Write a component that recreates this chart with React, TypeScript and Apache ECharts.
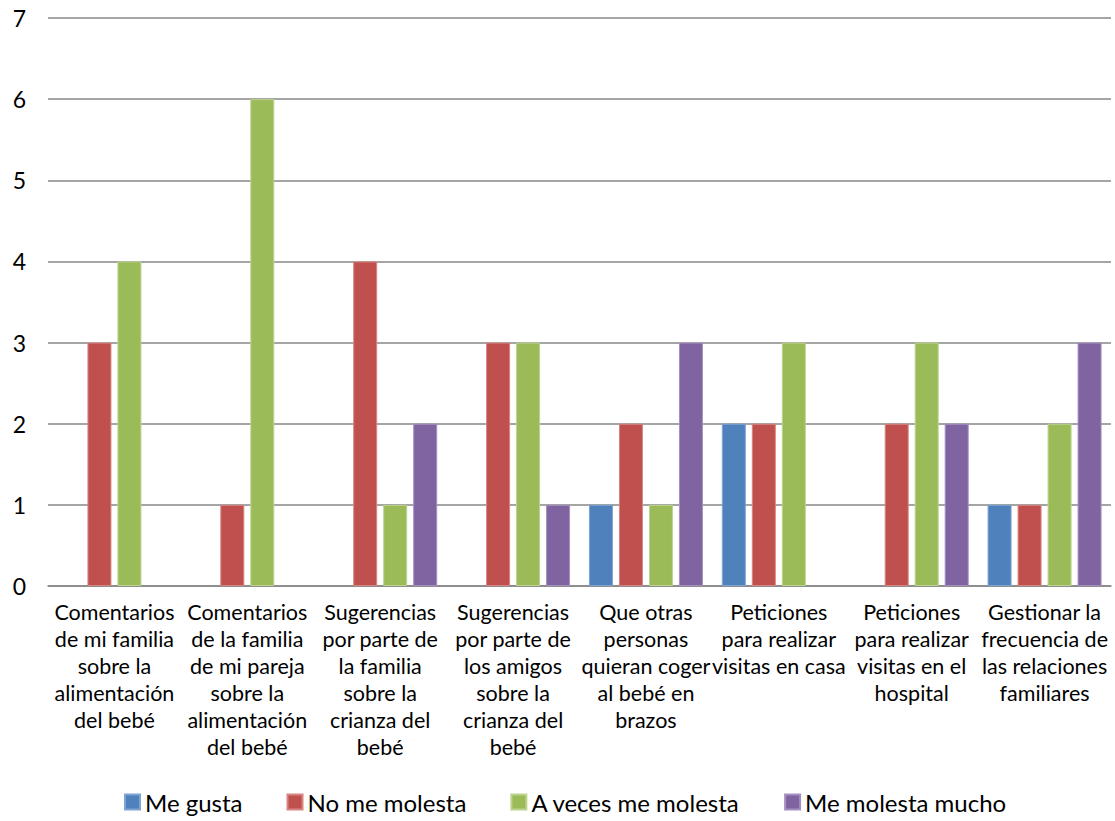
import React, { useEffect, useRef } from "react";
import * as echarts from "echarts";

const categories = [
  "Comentarios\nde mi familia\nsobre la\nalimentación\ndel bebé",
  "Comentarios\nde la familia\nde mi pareja\nsobre la\nalimentación\ndel bebé",
  "Sugerencias\npor parte de\nla familia\nsobre la\ncrianza del\nbebé",
  "Sugerencias\npor parte de\nlos amigos\nsobre la\ncrianza del\nbebé",
  "Que otras\npersonas\nquieran coger\nal bebé en\nbrazos",
  "Peticiones\npara realizar\nvisitas en casa",
  "Peticiones\npara realizar\nvisitas en el\nhospital",
  "Gestionar la\nfrecuencia de\nlas relaciones\nfamiliares",
];

const meGusta = [0, 0, 0, 0, 1, 2, 0, 1];
const noMeMolesta = [3, 1, 4, 3, 2, 2, 2, 1];
const aVecesMeMolesta = [4, 6, 1, 3, 1, 3, 3, 2];
const meMolestaMucho = [0, 0, 2, 1, 3, 0, 2, 3];

const yTicks = [0, 1, 2, 3, 4, 5, 6, 7];

const FONT = "Lato, 'Open Sans', sans-serif";

const seriesDefs = [
  { name: "Me gusta", data: meGusta, color: "#4F81BD", edge: "#7FA3D3" },
  { name: "No me molesta", data: noMeMolesta, color: "#C0504D", edge: "#D88583" },
  { name: "A veces me molesta", data: aVecesMeMolesta, color: "#9BBB59", edge: "#BDD38F" },
  { name: "Me molesta mucho", data: meMolestaMucho, color: "#8064A2", edge: "#A591BF" },
];

export default function App() {
  const ref = useRef<HTMLDivElement>(null);

  useEffect(() => {
    if (!ref.current) return;
    const chart = echarts.init(ref.current, undefined, { renderer: "svg" });
    chart.setOption({
      animation: false,
      backgroundColor: "#ffffff",
      grid: { left: 48, right: 4, top: 18, bottom: 235, containLabel: false },
      legend: {
        top: 785,
        left: 119,
        itemWidth: 15,
        itemHeight: 15,
        itemGap: 44,
        icon: "rect",
        textStyle: { fontFamily: FONT, fontSize: 24, color: "#000" },
        data: seriesDefs.map((s) => s.name),
      },
      xAxis: {
        type: "category",
        data: categories,
        axisTick: { show: false },
        axisLine: { lineStyle: { color: "#878787", width: 1.5 } },
        axisLabel: {
          interval: 0,
          margin: 12,
          fontFamily: FONT,
          fontSize: 21.5,
          lineHeight: 27,
          color: "#000",
          align: "center",
          verticalAlign: "top",
        },
      },
      yAxis: {
        type: "value",
        min: yTicks[0],
        max: yTicks[yTicks.length - 1],
        interval: 1,
        axisLine: { show: false },
        axisTick: { show: false },
        splitLine: { lineStyle: { color: "#878787", width: 1.5 } },
        axisLabel: {
          margin: 22,
          fontFamily: FONT,
          fontSize: 23,
          color: "#000",
        },
      },
      series: seriesDefs.map((s) => ({
        name: s.name,
        type: "bar",
        data: s.data.map((v) => (v === 0 ? { value: v, itemStyle: { borderWidth: 0 } } : v)),
        barWidth: 24,
        barGap: "25%",
        itemStyle: { color: s.color, borderColor: s.edge, borderWidth: 1 },
      })),
    });
    return () => chart.dispose();
  }, []);

  return (
    <div
      ref={ref}
      style={{ position: "absolute", left: 0, top: 0, width: 1115, height: 821 }}
    />
  );
}
